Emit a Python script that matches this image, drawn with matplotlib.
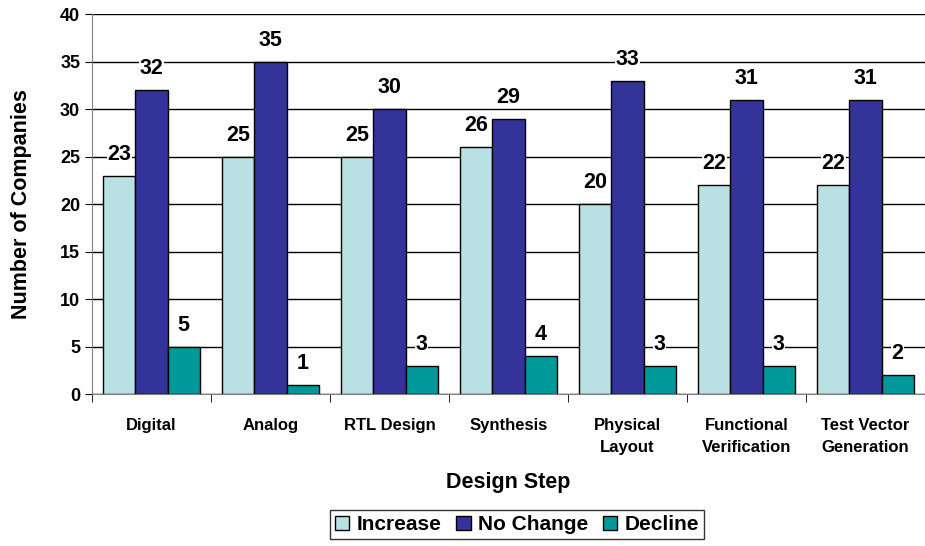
import matplotlib.pyplot as plt
import numpy as np

plt.rcParams['font.family'] = ['Liberation Sans', 'DejaVu Sans']
plt.rcParams['font.weight'] = 'bold'

steps = ['Digital', 'Analog', 'RTL Design', 'Synthesis', 'Physical\nLayout',
         'Functional\nVerification', 'Test Vector\nGeneration']
increase = [23, 25, 25, 26, 20, 22, 22]
no_change = [32, 35, 30, 29, 33, 31, 31]
decline = [5, 1, 3, 4, 3, 3, 2]

series = [('Increase', increase, '#B9E0E2'),
          ('No Change', no_change, '#333399'),
          ('Decline', decline, '#009999')]

fig = plt.figure(figsize=(9.25, 5.46), dpi=100)
ax = fig.add_axes([0.0995, 0.278, 0.9005, 0.696])

x = np.arange(len(steps))
w = 0.27
for i, (name, vals, col) in enumerate(series):
    pos = x + (i - 1) * w
    ax.bar(pos, vals, w, color=col, edgecolor='black', linewidth=1,
           label=name, zorder=3)
    for p, v in zip(pos, vals):
        ax.annotate(str(v), (p, v), xytext=(0, 8), textcoords='offset points',
                    ha='center', va='bottom', fontsize=15.5, fontweight='bold',
                    bbox=dict(facecolor='white', edgecolor='none', pad=0.5),
                    zorder=4)

ax.set_xlim(-0.5, len(steps) - 0.5)
ax.set_ylim(0, 40)
ax.set_yticks(range(0, 41, 5))
ax.yaxis.grid(True, color='black', linewidth=1)
ax.set_axisbelow(True)
ax.set_xticks(x)
ax.set_xticklabels(steps, fontsize=12, fontweight='bold', linespacing=1.6)
ax.tick_params(axis='x', length=0, pad=17)
ax.tick_params(axis='y', labelsize=13, length=5, direction='out')
ax.set_xticks(np.arange(-0.5, len(steps)), minor=True)
ax.tick_params(axis='x', which='minor', length=6, direction='out')
for s in ['top', 'right']:
    ax.spines[s].set_visible(False)
ax.spines['left'].set_color('#808080')
ax.spines['bottom'].set_color('#808080')

ax.set_xlabel('Design Step', fontsize=15.5, fontweight='bold', labelpad=12)
ax.set_ylabel('Number of Companies', fontsize=15.5, fontweight='bold', labelpad=20)

leg = fig.legend(loc='center', bbox_to_anchor=(0.559, 0.039), ncol=3,
                 fontsize=15, frameon=True, fancybox=False, edgecolor='black',
                 handlelength=0.7, handleheight=0.7, handletextpad=0.35,
                 columnspacing=0.7, borderpad=0.25)
leg.get_frame().set_linewidth(1)

fig.savefig('out.png', dpi=100)
